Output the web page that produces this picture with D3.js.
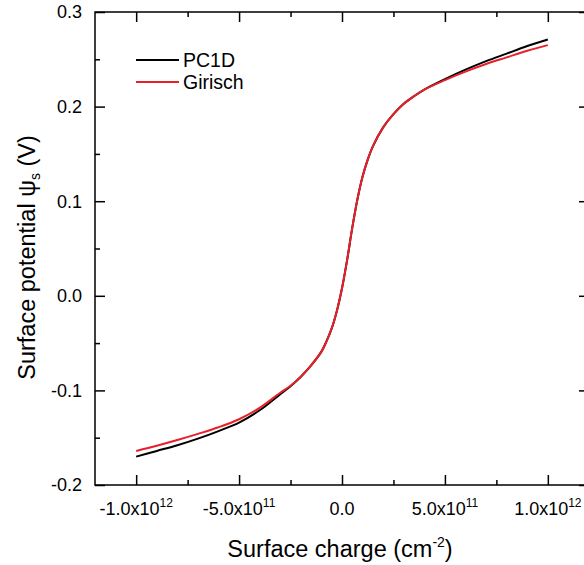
<!DOCTYPE html>
<html>
<head>
<meta charset="utf-8">
<script src="https://cdn.jsdelivr.net/npm/d3@7"></script>
<style>
  html, body { margin: 0; padding: 0; background: #fff; }
  svg { display: block; font-family: "Liberation Sans", Arial, sans-serif; }
</style>
</head>
<body>
<svg id="chart" width="584" height="565"></svg>
<script>
// ---- data (surface charge in cm^-2, surface potential in V) ----
const charge = [-10, -9, -8, -7, -6, -5, -4, -3, -2.5, -2, -1.5, -1, -0.75, -0.5, -0.25, 0,
                0.25, 0.5, 0.75, 1, 1.25, 1.5, 2, 2.5, 3, 3.5, 4, 5, 6, 7, 8, 9, 10].map(v => v * 1e11);
const pc1d = [-0.170, -0.164, -0.158, -0.151, -0.143, -0.134, -0.121, -0.104, -0.0955, -0.0855, -0.0735,
              -0.059, -0.048, -0.0345, -0.016, 0.008, 0.038, 0.072, 0.102, 0.126, 0.144, 0.158, 0.178,
              0.192, 0.203, 0.211, 0.218, 0.229, 0.239, 0.248, 0.256, 0.264, 0.271];
const girisch = [-0.164, -0.1585, -0.1525, -0.146, -0.139, -0.1305, -0.1185, -0.1025, -0.095, -0.0855, -0.0735,
                 -0.059, -0.048, -0.0345, -0.016, 0.008, 0.038, 0.072, 0.102, 0.126, 0.144, 0.158, 0.178,
                 0.192, 0.203, 0.211, 0.218, 0.228, 0.237, 0.245, 0.252, 0.259, 0.265];
const seriesNames = ["PC1D", "Girisch"];
const seriesColors = ["#000000", "#e8202a"];

const xTicks = [-1e12, -5e11, 0, 5e11, 1e12];
const xTickMant = ["-1.0x10", "-5.0x10", "0.0", "5.0x10", "1.0x10"];
const xTickExp = ["12", "11", "", "11", "12"];
const xMinorTicks = [-1.25e12, -7.5e11, -2.5e11, 2.5e11, 7.5e11, 1.25e12];
const yTicks = [-0.2, -0.1, 0.0, 0.1, 0.2, 0.3];
const yTickLabels = ["-0.2", "-0.1", "0.0", "0.1", "0.2", "0.3"];
const yMinorTicks = [-0.15, -0.05, 0.05, 0.15, 0.25];

// ---- layout ----
const L = 95, R = 589, T = 12, B = 485;
const svg = d3.select("#chart");
const x = d3.scaleLinear().domain([-1.2e12, 1.2e12]).range([L, R]);
const y = d3.scaleLinear().domain([-0.2, 0.3]).range([B, T]);

const tickFont = 18;
const axisColor = "#000";

function styleAxis(g) {
  g.select(".domain").remove();
  g.selectAll("line").attr("stroke", axisColor).attr("stroke-width", 1.5);
  g.selectAll("text").remove();
}

// major & minor ticks on four sides (inward)
const sides = [
  {gen: d3.axisBottom, sc: x, tr: `translate(0,${B})`, maj: xTicks, min: xMinorTicks.filter(v => x(v) >= L && x(v) <= R)},
  {gen: d3.axisTop, sc: x, tr: `translate(0,${T})`, maj: xTicks, min: xMinorTicks.filter(v => x(v) >= L && x(v) <= R)},
  {gen: d3.axisLeft, sc: y, tr: `translate(${L},0)`, maj: yTicks, min: yMinorTicks},
  {gen: d3.axisRight, sc: y, tr: `translate(${R},0)`, maj: yTicks, min: yMinorTicks}
];
sides.forEach(s => {
  svg.append("g").attr("transform", s.tr)
    .call(s.gen(s.sc).tickValues(s.maj).tickSizeInner(-10).tickSizeOuter(0).tickFormat(""))
    .call(styleAxis);
  svg.append("g").attr("transform", s.tr)
    .call(s.gen(s.sc).tickValues(s.min).tickSizeInner(-5).tickSizeOuter(0).tickFormat(""))
    .call(styleAxis);
});

// frame
svg.append("rect").attr("x", L).attr("y", T).attr("width", R - L).attr("height", B - T)
  .attr("fill", "none").attr("stroke", axisColor).attr("stroke-width", 1.5);

// x tick labels
const xl = svg.append("g");
xTicks.forEach((v, i) => {
  const t = xl.append("text").attr("x", x(v)).attr("y", 515)
    .attr("text-anchor", "middle").attr("font-size", tickFont).attr("fill", "#000");
  t.append("tspan").text(xTickMant[i]);
  if (xTickExp[i]) {
    t.append("tspan").attr("dy", -8).attr("font-size", 12).text(xTickExp[i]);
  }
});

// y tick labels
yTicks.forEach((v, i) => {
  svg.append("text").attr("x", 82).attr("y", y(v)).attr("dy", "0.35em")
    .attr("text-anchor", "end").attr("font-size", tickFont).attr("fill", "#000")
    .text(yTickLabels[i]);
});

// axis titles
const xt = svg.append("text").attr("x", 340).attr("y", 557)
  .attr("text-anchor", "middle").attr("font-size", 23.5).attr("fill", "#000");
xt.append("tspan").text("Surface charge (cm");
xt.append("tspan").attr("dy", -10).attr("font-size", 14).text("-2");
xt.append("tspan").attr("dy", 10).text(")");

const yt = svg.append("text").attr("transform", `translate(35,${(T + B) / 2 + 9}) rotate(-90)`)
  .attr("text-anchor", "middle").attr("font-size", 23.5).attr("fill", "#000");
yt.append("tspan").text("Surface potential ψ");
yt.append("tspan").attr("dy", 5).attr("font-size", 14).text("s");
yt.append("tspan").attr("dy", -5).text(" (V)");

// lines
const line = d3.line().x((d, i) => x(charge[i])).y(d => y(d)).curve(d3.curveCatmullRom.alpha(0.5));
[pc1d, girisch].forEach((s, k) => {
  svg.append("path").datum(s).attr("d", line)
    .attr("fill", "none").attr("stroke", seriesColors[k]).attr("stroke-width", 2);
});

// legend
seriesNames.forEach((n, k) => {
  const ly = 60 + k * 22;
  svg.append("line").attr("x1", 136).attr("x2", 179).attr("y1", ly).attr("y2", ly)
    .attr("stroke", seriesColors[k]).attr("stroke-width", 2);
  svg.append("text").attr("x", 183).attr("y", ly).attr("dy", "0.35em")
    .attr("font-size", 19.5).attr("fill", "#000").text(n);
});
</script>
</body>
</html>
